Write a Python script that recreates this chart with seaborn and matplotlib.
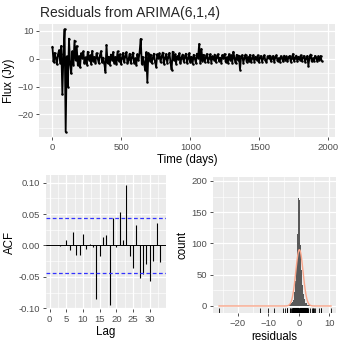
import numpy as np
import matplotlib
matplotlib.use("Agg")
import matplotlib.pyplot as plt
from matplotlib.ticker import MultipleLocator, FormatStrFormatter
import seaborn as sns


# =========================
# DATA
# =========================
step_days = 8

# residual series, one value every 8 days
residuals = [
    4.3, -1.2, 2.1, 0.4, -2.0, 1.5, 3.0, -1.5, 4.6, -12.8,
    1.8, 10.6, -26.3, 0.8, -10.1, 7.2, -1.8, -5.3, 2.6, -2.2,
    6.5, -0.6, 4.5, -2.4, 0.9, -3.1, 1.9, 0.3, 2.6, -1.6,
    0.5, -2.1, 2.5, -0.3, 1.2, -1.9, 2.8, -0.9, 0.6, -1.5,
    2.0, 0.2, -1.6, 1.1, 2.7, -1.3, 0.4, -1.7, -4.6, 4.9,
    -1.6, 0.7, -2.2, 1.5, -0.4, 2.4, -1.4, 0.6, -1.9, 2.6,
    -0.8, 1.6, -1.9, 0.3, 2.1, -1.2, 0.8, 2.3, -1.6, -0.2,
    1.8, -1.7, 0.5, 2.2, -1.4, 0.1, -2.1, 1.6, -0.6, 2.4,
    7.1, -1.9, 0.6, -1.5, -4.0, 2.3, -8.3, 2.0, -0.7, 1.5,
    -1.6, 0.4, 1.8, -1.1, -3.0, 1.6, 0.2, 1.9, -1.3, 0.8,
    2.2, -1.8, 0.3, 1.7, -1.4, 0.6, 2.1, -1.2, -4.0, 2.5,
    -0.5, 1.6, -1.8, 0.9, -0.2, 1.9, -1.6, 0.4, 1.5, -1.1,
    0.6, 1.8, -1.5, 0.2, 2.0, -1.3, 0.7, -1.8, 1.4, 0.1,
    -1.6, 1.8, 0.3, 5.3, -1.5, 3.5, -0.8, 1.4, -1.2, 0.5,
    1.7, -1.3, 0.2, 1.6, -1.4, 0.8, -0.3, 1.5, -1.2, 0.6,
    1.6, -0.9, 0.4, -1.4, 1.3, 0.1, 1.7, -1.2, 0.5, -1.5,
    1.6, -0.3, 1.2, -1.4, 2.5, 0.2, -1.6, 1.4, -0.4, 1.1,
    -3.9, 0.8, 1.3, -1.4, 0.3, 1.5, -1.2, 0.6, -0.9, 1.4,
    -1.2, 0.2, 1.3, -1.1, 0.7, -0.4, 1.2, -1.3, 0.5, 1.0,
    -1.1, 0.3, 1.2, -0.6, -1.2, 0.9, 0.1, 1.1, -1.0, 0.4,
    1.0, -1.1, 0.5, 1.2, -0.9, 0.2, -1.1, 0.9, 0.3, -1.0,
    1.1, -0.4, 0.8, -1.0, 0.6, 1.0, -1.1, 0.2, 1.7, -0.8,
    0.4, 1.1, -1.0, 0.7, -0.3, 1.2, -0.9, 0.5, 1.0, -1.1,
    0.3, 1.0, -2.6, 0.6, 1.5, -1.0, 0.2, -0.8, 1.0, 0.4,
    -1.0, 0.9, -0.5, 1.0, -0.8,
]
days = np.arange(len(residuals)) * step_days

acf_lags = list(range(1, 34))
acf_values = [
    0.000, 0.000, -0.001, 0.001, 0.009, -0.007, 0.022, -0.015, -0.015, 0.019,
    -0.006, 0.003, -0.002, -0.085, -0.016, 0.014, 0.016, -0.095, 0.043, -0.003,
    0.054, 0.008, 0.096, -0.016, -0.035, 0.032, -0.052, -0.046, -0.030, -0.056,
    -0.024, 0.036, -0.026,
]
acf_bound = 0.0444

hist_centers = [
    -3.05, -2.90, -2.75, -2.60, -2.45, -2.30, -2.15, -2.00, -1.85, -1.70,
    -1.55, -1.40, -1.25, -1.10, -0.95, -0.80, -0.65, -0.50, -0.35, -0.20,
    -0.05, 0.10, 0.25, 0.40, 0.55, 0.70, 0.85, 1.00, 1.15, 1.30,
    1.45, 1.60, 1.75, 1.90, 2.05, 2.20, 2.35, 2.50, 2.65, 2.80,
    2.95, 3.10, -4.55, -3.95, -3.35, 3.40, 4.00, 4.60,
]
hist_counts = [
    2, 2, 3, 3, 4, 5, 6, 8, 10, 13,
    17, 22, 30, 40, 52, 68, 90, 115, 145, 172,
    193, 170, 150, 122, 98, 76, 58, 44, 33, 25,
    19, 14, 11, 9, 7, 5, 4, 4, 3, 2,
    2, 2, 1, 2, 2, 2, 1, 1,
]
hist_binwidth = 0.15

norm_mean = 0.15
norm_sd = 1.2
norm_area = 271


# =========================
# STYLE (ggplot2 grey look)
# =========================
sns.set_theme(style="darkgrid", rc={
    "axes.facecolor": "#EBEBEB",
    "grid.color": "white",
    "grid.linewidth": 0.9,
    "xtick.color": "#4D4D4D",
    "ytick.color": "#4D4D4D",
    "xtick.labelsize": 6.8,
    "ytick.labelsize": 6.8,
    "axes.labelsize": 8.3,
    "axes.labelcolor": "black",
    "xtick.bottom": True,
    "ytick.left": True,
    "xtick.major.size": 2.5,
    "ytick.major.size": 2.5,
    "xtick.major.width": 0.6,
    "ytick.major.width": 0.6,
    "xtick.major.pad": 1.5,
    "ytick.major.pad": 1.5,
    "axes.labelpad": 2,
})
plt.rcParams["font.family"] = ["Liberation Sans", "DejaVu Sans"]
plt.rcParams["path.simplify"] = False


def gg_axes(ax, xmajor, ymajor):
    ax.xaxis.set_major_locator(MultipleLocator(xmajor))
    ax.yaxis.set_major_locator(MultipleLocator(ymajor))
    ax.xaxis.set_minor_locator(MultipleLocator(xmajor / 2))
    ax.yaxis.set_minor_locator(MultipleLocator(ymajor / 2))
    ax.grid(which="minor", color="white", linewidth=0.45)
    ax.grid(which="major", color="white", linewidth=0.9)
    ax.tick_params(which="minor", length=0)
    ax.tick_params(which="major", color="#333333")
    for s in ax.spines.values():
        s.set_visible(False)


fig = plt.figure(figsize=(3.42, 3.48), dpi=100)

# =========================
# TOP: residual series
# =========================
ax1 = fig.add_axes([0.114, 0.606, 0.865, 0.325])
sns.lineplot(x=days, y=residuals, color="black", linewidth=1.3,
             marker="o", markersize=1.8, markeredgewidth=0, ax=ax1)
ax1.set_xlim(-97.5, 2047.5)
ax1.set_ylim(-28.15, 12.45)
gg_axes(ax1, 500, 10)
ax1.set_xlabel("Time (days)")
ax1.set_ylabel("Flux (Jy)")
fig.text(0.117, 0.963, "Residuals from ARIMA(6,1,4)", fontsize=10,
         ha="left", va="center")

# =========================
# BOTTOM LEFT: ACF
# =========================
ax2 = fig.add_axes([0.134, 0.112, 0.351, 0.385])
ax2.axhline(0, color="black", linewidth=0.7)
ax2.vlines(acf_lags, 0, acf_values, color="black", linewidth=0.8)
for b in (acf_bound, -acf_bound):
    ax2.axhline(b, color="#3333FF", linestyle=(0, (3, 2)), linewidth=0.9)
ax2.set_xlim(-1.1, 34.8)
ax2.set_ylim(-0.101, 0.112)
gg_axes(ax2, 5, 0.05)
ax2.yaxis.set_major_formatter(FormatStrFormatter("%.2f"))
ax2.set_xlabel("Lag")
ax2.set_ylabel("ACF")

# =========================
# BOTTOM RIGHT: histogram
# =========================
ax3 = fig.add_axes([0.622, 0.0997, 0.360, 0.391])
sns.histplot(x=hist_centers, weights=hist_counts, binwidth=hist_binwidth,
             binrange=(-4.625, 4.675), color="#595959", alpha=1,
             linewidth=0, ax=ax3)
xs = np.linspace(min(residuals), max(residuals), 400)
ys = norm_area * np.exp(-0.5 * ((xs - norm_mean) / norm_sd) ** 2) / (norm_sd * np.sqrt(2 * np.pi))
sns.lineplot(x=xs, y=ys, color="#F9A58A", linewidth=1.0, ax=ax3)
sns.rugplot(x=residuals, height=0.04, color="black", linewidth=0.6, ax=ax3)
ax3.set_xlim(-28.3, 12.1)
ax3.set_ylim(-11.7, 205.9)
gg_axes(ax3, 10, 50)
ax3.set_xlabel("residuals")
ax3.set_ylabel("count")

fig.savefig("out.png", dpi=100)
